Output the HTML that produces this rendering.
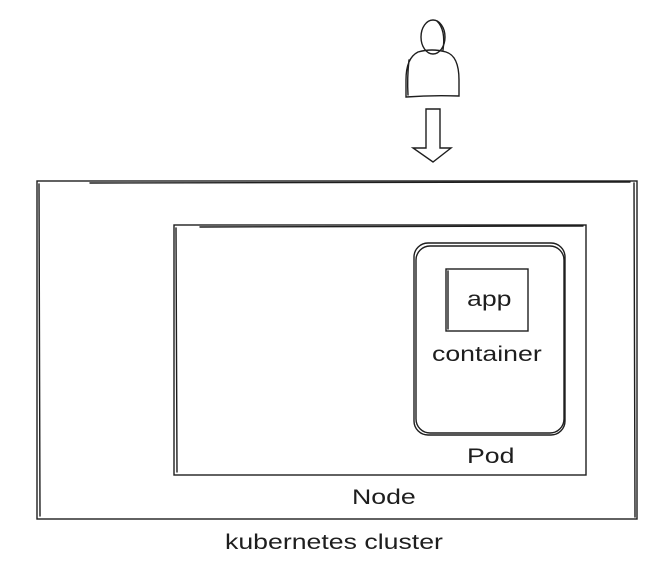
<!DOCTYPE html>
<html><head><style>
html,body{margin:0;padding:0;background:#fff;}
body{width:659px;height:573px;position:relative;overflow:hidden;font-family:"Liberation Sans",sans-serif;}
.t{position:absolute;font-size:21px;color:#1e1e1e;transform:scaleX(1.27);transform-origin:0 0;white-space:nowrap;}
</style></head><body>
<svg width="659" height="573" style="position:absolute;left:0;top:0" fill="none" stroke="#1e1e1e" stroke-width="1.4" stroke-linecap="round">
<ellipse cx="433" cy="37" rx="12" ry="17"/>
<path d="M437 21 Q446 30 443 50"/>
<path d="M418 52 Q406 58 406 80 L406 97 Q432 95 459 96 L459 80 Q459 56 446 52 Q432 48 418 52Z"/>
<path d="M409 60 Q407 78 408 95"/>
<path d="M426 109 L440 109 L440 148 L451 148 L433 162 L413 148 L426 148 Z"/>
<rect x="37" y="181" width="600" height="338"/>
<path d="M39 184 L40 516 M634 183 L635 517 M90 183 L630 182"/>
<rect x="174" y="225" width="412" height="250"/>
<path d="M176 228 L177 472 M200 227 L583 226"/>
<rect x="414" y="243" width="151" height="192" rx="14"/>
<rect x="416" y="246" width="148" height="187" rx="14"/>
<rect x="446" y="269" width="82" height="62"/>
<path d="M448 271 L448 329"/>
</svg>
<div class="t" style="left:467px;top:288px;">app</div>
<div class="t" style="left:432px;top:343px;">container</div>
<div class="t" style="left:467px;top:445px;">Pod</div>
<div class="t" style="left:352px;top:486px;">Node</div>
<div class="t" style="left:225px;top:531px;">kubernetes cluster</div>
</body></html>
